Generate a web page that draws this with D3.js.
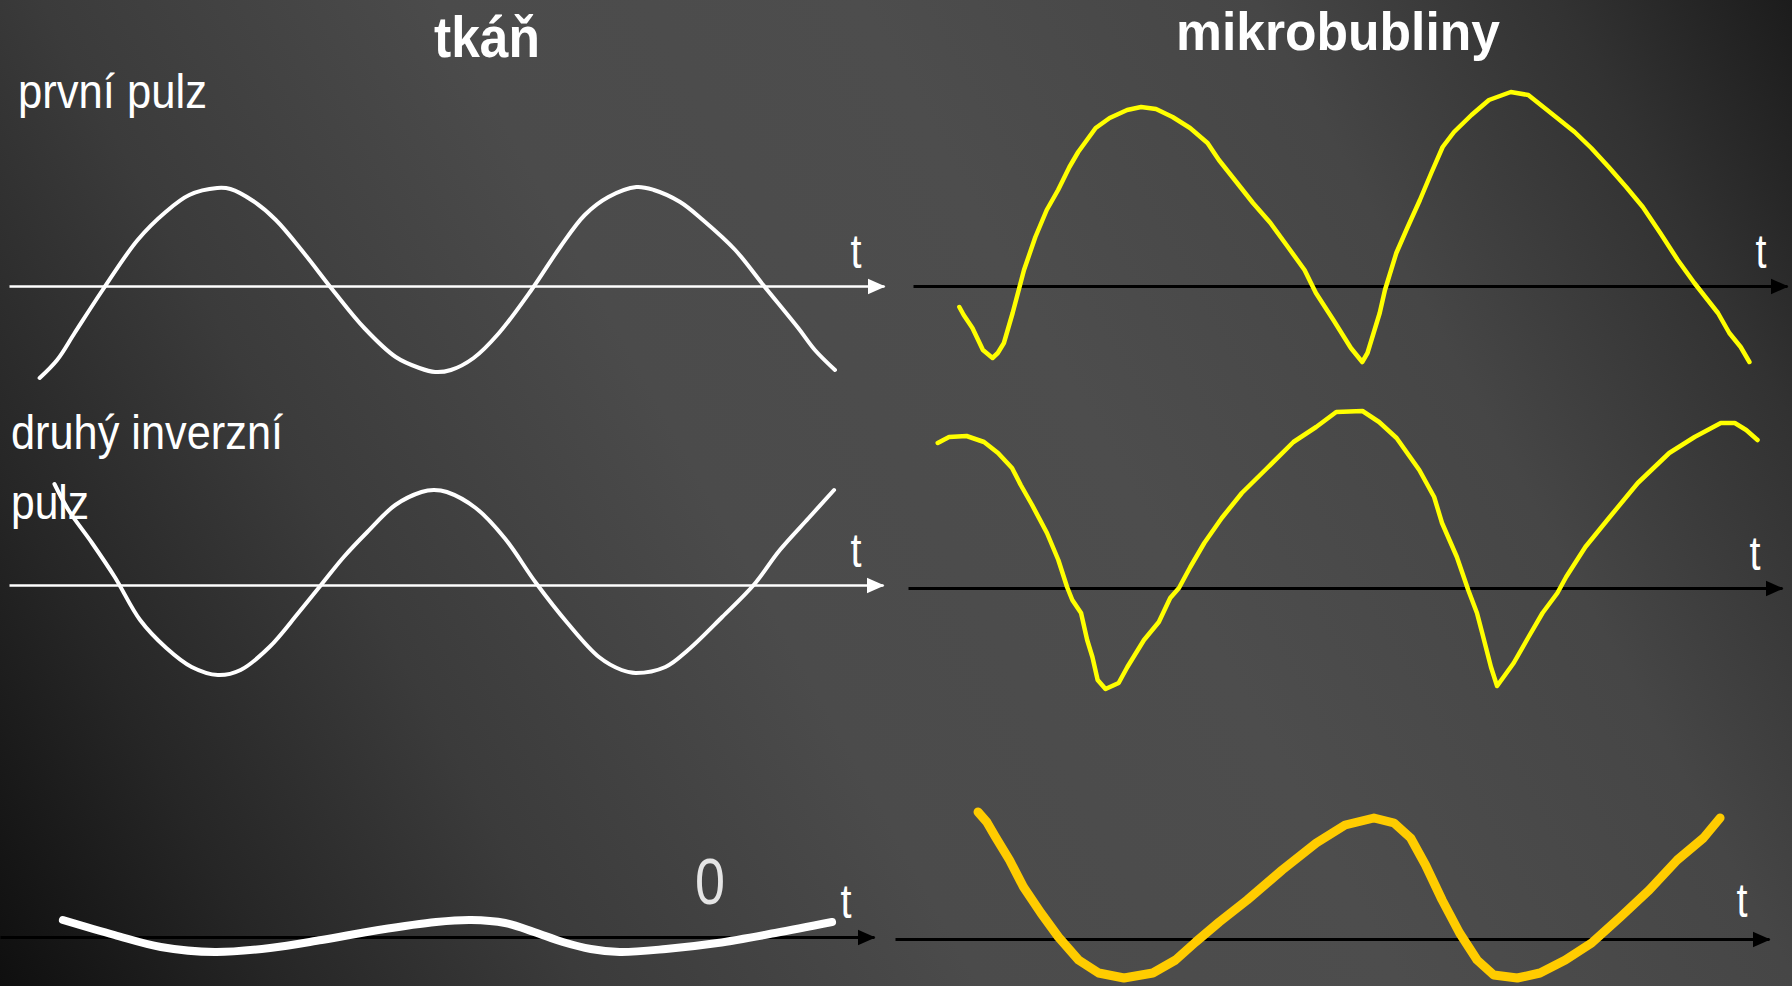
<!DOCTYPE html>
<html>
<head>
<meta charset="utf-8">
<script src="https://cdn.jsdelivr.net/npm/d3@7"></script>
<style>
  html, body { margin: 0; padding: 0; overflow: hidden; background: #333; }
</style>
</head>
<body>
<div id="chart"></div>
<script>
// Titles and labels
const columnTitles = ["tkáň", "mikrobubliny"];
const rowLabels = ["první pulz", "druhý inverzní", "pulz"];
const axisName = "t";
const sumLabel = "0";

// Curves as [time, amplitude] (time 0..10 along each axis)
const tissueFirst = [
  [0.35, -0.92], [0.55, -0.74], [0.75, -0.47], [1.07, -0.04], [1.47, 0.46],
  [1.79, 0.74], [2.06, 0.91], [2.38, 0.98], [2.53, 0.97], [2.79, 0.85],
  [3.05, 0.66], [3.37, 0.33], [3.70, -0.04], [4.06, -0.42], [4.42, -0.71],
  [4.69, -0.82], [4.87, -0.86], [5.05, -0.84], [5.31, -0.72], [5.60, -0.47],
  [5.97, -0.04], [6.30, 0.39], [6.58, 0.71], [6.85, 0.89], [7.17, 0.99],
  [7.37, 0.96], [7.67, 0.84], [7.93, 0.66], [8.30, 0.36], [8.62, 0.01],
  [9.02, -0.42], [9.21, -0.64], [9.44, -0.84]
];
const tissueSecond = [
  [0.52, 1.01], [0.68, 0.75], [0.95, 0.42], [1.21, 0.08], [1.50, -0.35],
  [1.80, -0.63], [2.09, -0.82], [2.39, -0.90], [2.65, -0.85], [2.98, -0.62],
  [3.31, -0.28], [3.57, 0.00], [3.83, 0.28], [4.10, 0.53], [4.42, 0.80],
  [4.72, 0.93], [4.86, 0.95], [5.01, 0.93], [5.34, 0.77], [5.67, 0.47],
  [6.03, 0.02], [6.39, -0.38], [6.75, -0.72], [7.01, -0.85], [7.17, -0.88],
  [7.51, -0.82], [7.77, -0.65], [8.16, -0.32], [8.52, 0.00], [8.82, 0.35],
  [9.15, 0.67], [9.44, 0.95]
];
const tissueSum = [
  [0.72, 0.17], [1.31, 0.02], [1.84, -0.10], [2.46, -0.15], [3.09, -0.11],
  [3.68, -0.03], [4.33, 0.07], [4.99, 0.15], [5.39, 0.17], [5.78, 0.14],
  [6.11, 0.05], [6.44, -0.05], [6.76, -0.12], [7.09, -0.15], [7.62, -0.12],
  [8.21, -0.06], [8.87, 0.04], [9.52, 0.15]
];
const bubbleFirst = [
  [0.53, -0.21], [0.58, -0.29], [0.68, -0.42], [0.80, -0.64], [0.91, -0.72],
  [0.97, -0.67], [1.04, -0.57], [1.14, -0.27], [1.27, 0.16], [1.40, 0.49],
  [1.53, 0.76], [1.66, 0.96], [1.79, 1.19], [1.89, 1.34], [1.99, 1.46],
  [2.09, 1.58], [2.25, 1.68], [2.45, 1.76], [2.61, 1.79], [2.78, 1.77],
  [2.97, 1.69], [3.17, 1.58], [3.37, 1.43], [3.50, 1.26], [3.70, 1.04],
  [3.89, 0.83], [4.09, 0.63], [4.29, 0.39], [4.48, 0.16], [4.61, -0.07],
  [4.81, -0.34], [5.01, -0.62], [5.14, -0.76], [5.20, -0.67], [5.27, -0.47],
  [5.34, -0.27], [5.40, -0.04], [5.53, 0.33], [5.66, 0.59], [5.80, 0.86],
  [5.93, 1.13], [6.06, 1.39], [6.19, 1.54], [6.39, 1.71], [6.59, 1.86],
  [6.84, 1.94], [7.04, 1.91], [7.37, 1.68], [7.57, 1.54], [7.76, 1.38],
  [7.96, 1.19], [8.16, 0.99], [8.35, 0.79], [8.55, 0.53], [8.75, 0.26],
  [8.94, 0.03], [9.21, -0.27], [9.34, -0.47], [9.47, -0.61], [9.57, -0.76]
];
const bubbleSecond = [
  [0.34, 1.45], [0.47, 1.51], [0.67, 1.52], [0.87, 1.46], [1.03, 1.35],
  [1.19, 1.20], [1.29, 1.03], [1.42, 0.83], [1.59, 0.55], [1.72, 0.28],
  [1.82, 0.01], [1.88, -0.12], [1.98, -0.25], [2.05, -0.52], [2.11, -0.69],
  [2.17, -0.92], [2.26, -1.01], [2.41, -0.95], [2.51, -0.79], [2.70, -0.52],
  [2.87, -0.34], [3.00, -0.10], [3.10, 0.00], [3.23, 0.21], [3.39, 0.45],
  [3.59, 0.70], [3.82, 0.95], [4.11, 1.20], [4.41, 1.46], [4.67, 1.61],
  [4.90, 1.76], [5.20, 1.77], [5.39, 1.66], [5.59, 1.50], [5.85, 1.18],
  [6.02, 0.91], [6.11, 0.65], [6.28, 0.31], [6.41, -0.02], [6.51, -0.25],
  [6.57, -0.45], [6.67, -0.79], [6.74, -0.98], [6.93, -0.75], [7.10, -0.49],
  [7.26, -0.25], [7.43, -0.05], [7.53, 0.11], [7.75, 0.41], [8.02, 0.70],
  [8.35, 1.05], [8.71, 1.35], [9.00, 1.51], [9.30, 1.65], [9.46, 1.65],
  [9.59, 1.58], [9.72, 1.48]
];
const bubbleSum = [
  [0.95, 1.27], [1.05, 1.17], [1.15, 1.02], [1.31, 0.79], [1.47, 0.52],
  [1.67, 0.26], [1.87, 0.02], [2.10, -0.21], [2.33, -0.34], [2.62, -0.39],
  [2.95, -0.34], [3.21, -0.21], [3.44, -0.03], [3.71, 0.17], [4.03, 0.39],
  [4.43, 0.69], [4.82, 0.96], [5.15, 1.14], [5.48, 1.21], [5.71, 1.16],
  [5.90, 1.01], [6.07, 0.74], [6.26, 0.39], [6.46, 0.06], [6.66, -0.21],
  [6.85, -0.36], [7.12, -0.39], [7.38, -0.34], [7.67, -0.21], [7.97, -0.04],
  [8.30, 0.22], [8.63, 0.49], [8.95, 0.79], [9.25, 1.01], [9.44, 1.21]
];

const width = 1792;
const height = 986;

const svg = d3.select("#chart")
  .append("svg")
  .attr("width", width)
  .attr("height", height)
  .attr("viewBox", [0, 0, width, height]);

// Background: dark corners bottom-left / top-right, lighter band across the middle
const defs = svg.append("defs");
const bg = defs.append("linearGradient")
  .attr("id", "bg")
  .attr("gradientUnits", "userSpaceOnUse")
  .attr("x1", 0).attr("y1", height)
  .attr("x2", width).attr("y2", 0);
[
  [0, "#0f0f0f"], [0.12, "#262626"], [0.25, "#3b3b3b"], [0.42, "#4b4b4b"],
  [0.6, "#4d4d4d"], [0.77, "#464646"], [0.9, "#323232"], [1, "#1c1c1c"]
].forEach(([o, c]) => bg.append("stop").attr("offset", o).attr("stop-color", c));

svg.append("rect")
  .attr("width", width)
  .attr("height", height)
  .attr("fill", "url(#bg)");

// Arrowheads for the time axes
["white", "black"].forEach((c) => {
  defs.append("marker")
    .attr("id", `arrow-${c}`)
    .attr("markerUnits", "userSpaceOnUse")
    .attr("viewBox", "0 0 18 18")
    .attr("markerWidth", 18)
    .attr("markerHeight", 18)
    .attr("refX", 17)
    .attr("refY", 9)
    .attr("orient", "auto")
    .append("path")
    .attr("d", "M0,1 L18,9 L0,17 Z")
    .attr("fill", c);
});

const labelFont = "'Liberation Sans Narrow', 'Arial Narrow', 'Liberation Sans', Arial, sans-serif";
const titleFont = "'Liberation Sans', Arial, sans-serif";

// Panels: axis extent, axis height, colours
const panels = [
  { data: tissueFirst, x0: 9, x1: 884, y0: 286, axis: "white", color: "#ffffff", sw: 4, tx: 856, ty: 268 },
  { data: tissueSecond, x0: 9, x1: 883, y0: 585, axis: "white", color: "#ffffff", sw: 4, tx: 856, ty: 567 },
  { data: tissueSum, x0: 0, x1: 874, y0: 937, axis: "black", color: "#ffffff", sw: 8, tx: 846, ty: 918 },
  { data: bubbleFirst, x0: 913, x1: 1787, y0: 286, axis: "black", color: "#ffff00", sw: 4.5, tx: 1761, ty: 268 },
  { data: bubbleSecond, x0: 908, x1: 1782, y0: 588, axis: "black", color: "#ffff00", sw: 4.5, tx: 1755, ty: 570 },
  { data: bubbleSum, x0: 895, x1: 1769, y0: 939, axis: "black", color: "#ffcc00", sw: 9, tx: 1742, ty: 917 }
];

panels.forEach((p, i) => {
  const x = d3.scaleLinear().domain([0, 10]).range([p.x0, p.x1]);
  const y = d3.scaleLinear().domain([-1, 1]).range([p.y0 + 100, p.y0 - 100]);

  // Time axis: just the domain line with an arrow
  svg.append("g")
    .attr("transform", `translate(0,${y(0)})`)
    .call(d3.axisBottom(x).ticks(0).tickSizeOuter(0))
    .call((g) => g.selectAll(".tick").remove())
    .call((g) =>
      g.select(".domain")
        .attr("stroke", p.axis)
        .attr("stroke-width", p.axis === "white" ? 2.5 : 3)
        .attr("marker-end", `url(#arrow-${p.axis})`)
    );

  svg.append("text")
    .attr("x", p.tx)
    .attr("y", p.ty)
    .attr("text-anchor", "middle")
    .attr("fill", "white")
    .attr("font-family", labelFont)
    .attr("font-size", 48)
    .attr("textLength", 11)
    .attr("lengthAdjust", "spacingAndGlyphs")
    .text(axisName);

  const line = d3.line()
    .x((d) => x(d[0]))
    .y((d) => y(d[1]))
    .curve(i < 3 ? d3.curveCatmullRom : d3.curveLinear);

  svg.append("path")
    .datum(p.data)
    .attr("d", line)
    .attr("fill", "none")
    .attr("stroke", p.color)
    .attr("stroke-width", p.sw)
    .attr("stroke-linejoin", "round")
    .attr("stroke-linecap", "round");
});

// Column titles
[
  { text: columnTitles[0], x: 487, y: 57, len: 106, size: 58 },
  { text: columnTitles[1], x: 1338, y: 50, len: 324, size: 53 }
].forEach((t) => {
  svg.append("text")
    .attr("x", t.x)
    .attr("y", t.y)
    .attr("text-anchor", "middle")
    .attr("fill", "white")
    .attr("font-family", titleFont)
    .attr("font-weight", "700")
    .attr("font-size", t.size)
    .attr("textLength", t.len)
    .attr("lengthAdjust", "spacingAndGlyphs")
    .text(t.text);
});

// Row labels
[
  { text: rowLabels[0], x: 18, y: 108, len: 189 },
  { text: rowLabels[1], x: 11, y: 449, len: 272 },
  { text: rowLabels[2], x: 11, y: 519, len: 78 }
].forEach((t) => {
  svg.append("text")
    .attr("x", t.x)
    .attr("y", t.y)
    .attr("fill", "white")
    .attr("font-family", labelFont)
    .attr("font-size", 49)
    .attr("textLength", t.len)
    .attr("lengthAdjust", "spacingAndGlyphs")
    .text(t.text);
});

// Sum of the two tissue pulses
svg.append("text")
  .attr("x", 710)
  .attr("y", 904)
  .attr("text-anchor", "middle")
  .attr("fill", "#e4e4e4")
  .attr("font-family", labelFont)
  .attr("font-size", 64)
  .attr("textLength", 30)
  .attr("lengthAdjust", "spacingAndGlyphs")
  .text(sumLabel);
</script>
</body>
</html>
